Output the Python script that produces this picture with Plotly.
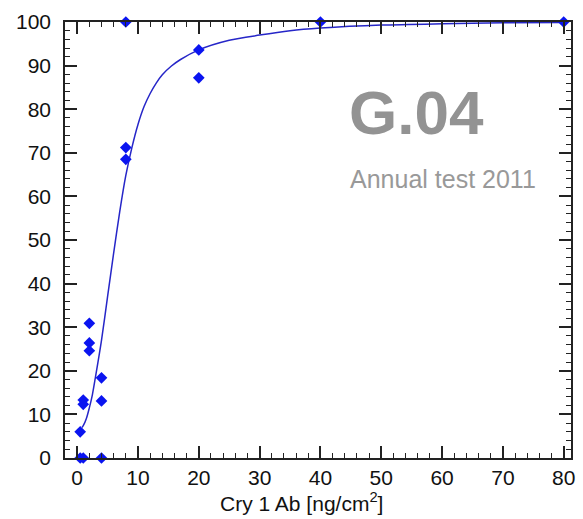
import plotly.graph_objects as go

# measured points
points_x = [0.5, 0.5, 1.0, 1.0, 1.0, 2.0, 2.0, 2.0, 4.0, 4.0, 4.0, 8.0, 8.0, 8.0, 20.0, 20.0, 40.0, 80.0]
points_y = [6.0, 0.0, 0.0, 13.3, 12.3, 30.9, 26.4, 24.6, 18.4, 13.1, 0.0, 71.2, 68.5, 100.0, 93.6, 87.2, 100.0, 100.0]

# fitted curve
curve_x = [0.8, 1.0, 1.5, 2.0, 2.5, 3.0, 4.0, 5.0, 6.0, 7.0, 8.0, 9.0, 10.0, 11.0, 12.0, 13.0, 14.0, 15.5, 17.0,
           20.0, 25.0, 30.0, 35.0, 40.0, 50.0, 60.0, 70.0, 80.0]
curve_y = [7.0, 7.4, 9.0, 11.5, 14.5, 18.5, 27.0, 37.0, 47.0, 56.5, 64.8, 71.2, 76.5, 80.6, 83.6, 86.0, 87.9, 89.9, 91.4,
           93.6, 95.8, 97.0, 98.0, 98.6, 99.3, 99.6, 99.8, 99.9]

x_ticks = [0, 10, 20, 30, 40, 50, 60, 70, 80]
y_ticks = [0, 10, 20, 30, 40, 50, 60, 70, 80, 90, 100]

fig = go.Figure()
fig.add_trace(go.Scatter(x=curve_x, y=curve_y, mode="lines",
                         line=dict(color="#2626c8", width=1.5, shape="spline", smoothing=0.8),
                         hoverinfo="skip", showlegend=False))
fig.add_trace(go.Scatter(x=points_x, y=points_y, mode="markers",
                         marker=dict(symbol="diamond", size=9, color="#0a14f0"),
                         cliponaxis=False, showlegend=False))

axis_common = dict(
    showgrid=False, zeroline=False, showline=True, linecolor="#222222", linewidth=1.5,
    mirror="allticks", ticks="inside", ticklen=12, tickwidth=1.5, tickcolor="#222222",
    tickfont=dict(family="Liberation Sans, Arial", size=21, color="#111111"),
)

fig.update_xaxes(range=[-2.0, 81.2], tickvals=x_ticks, ticktext=[str(v) for v in x_ticks],
                 minor=dict(dtick=2, tick0=0, ticks="inside", ticklen=5, tickwidth=1.2, tickcolor="#222222"),
                 ticklabelstandoff=0, **axis_common)
fig.update_yaxes(range=[0, 100], tickvals=y_ticks, ticktext=[str(v) for v in y_ticks],
                 minor=dict(dtick=2, tick0=0, ticks="inside", ticklen=5, tickwidth=1.2, tickcolor="#222222"),
                 ticklabelstandoff=8, **axis_common)

fig.add_annotation(text="<b>G.04</b>", xref="paper", yref="paper", x=0.557, y=0.792,
                   xanchor="left", yanchor="middle", showarrow=False,
                   font=dict(family="Liberation Sans, Arial", size=62, color="#939393"))
fig.add_annotation(text="Annual test 2011", xref="paper", yref="paper", x=0.56, y=0.640,
                   xanchor="left", yanchor="middle", showarrow=False,
                   font=dict(family="Liberation Sans, Arial", size=25, color="#999999"))
fig.add_annotation(text="Cry 1 Ab [ng/cm<sup>2</sup>]", xref="paper", yref="paper", x=0.4676, y=-0.102,
                   xanchor="center", yanchor="middle", showarrow=False,
                   font=dict(family="Liberation Sans, Arial", size=21, color="#111111"))

fig.update_layout(width=583, height=519, margin=dict(l=65, r=8, t=22, b=61),
                  paper_bgcolor="white", plot_bgcolor="white", showlegend=False)

fig.write_html("out.html")
